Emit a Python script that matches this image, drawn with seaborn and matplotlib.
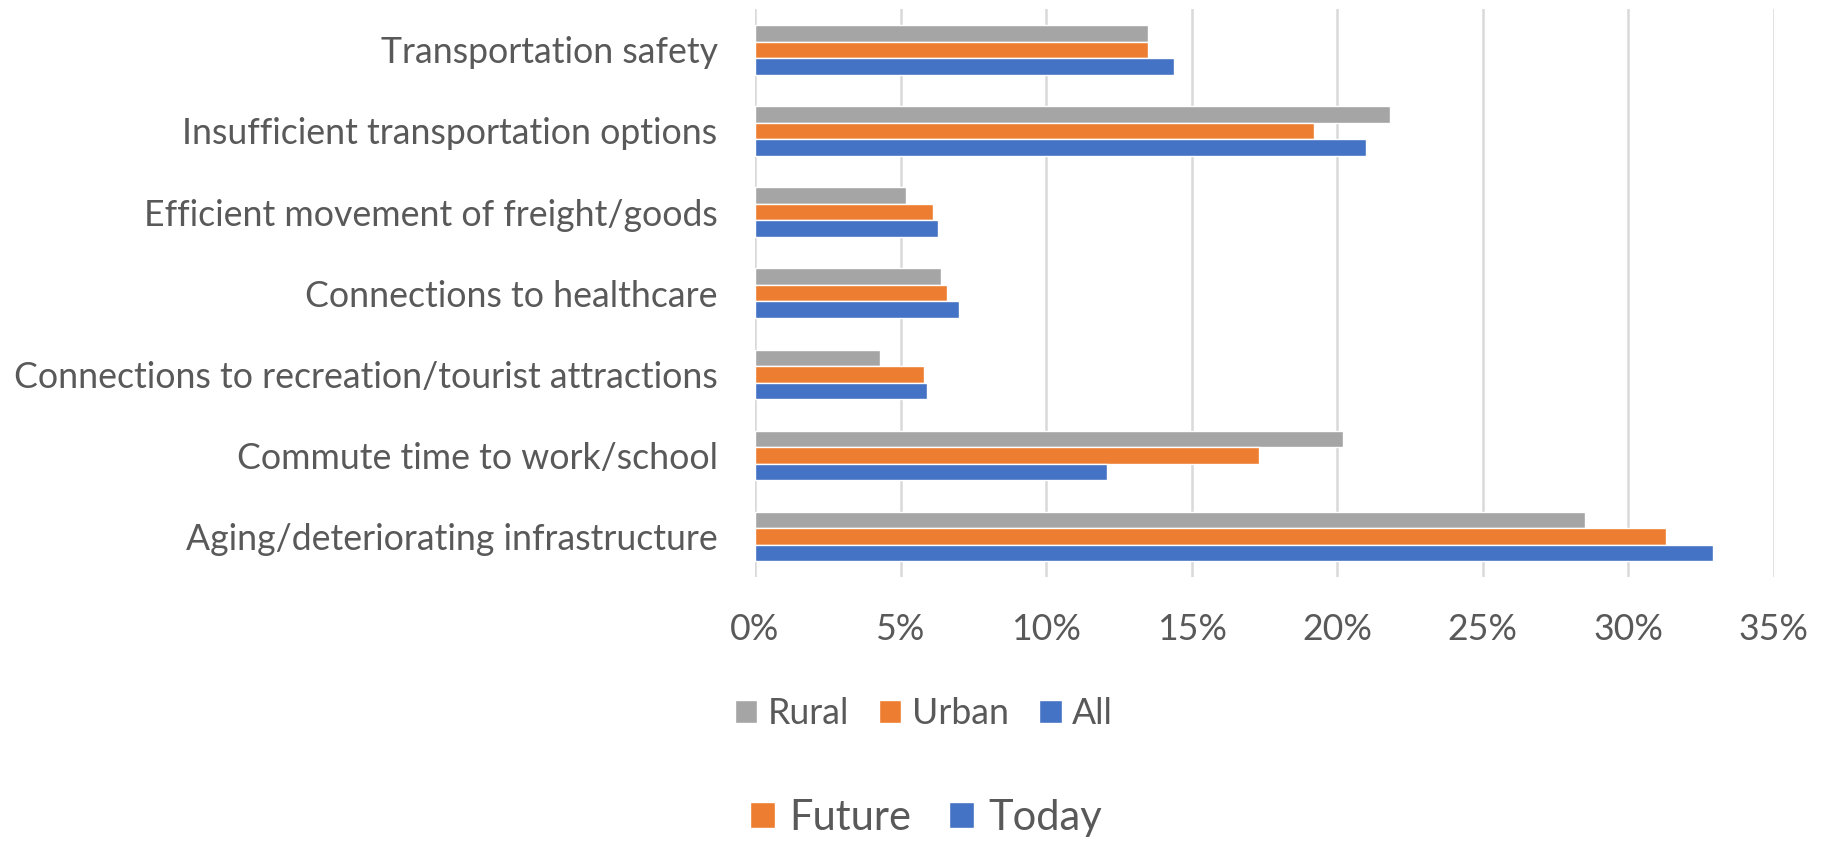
import pandas as pd
import matplotlib.pyplot as plt
import seaborn as sns
from matplotlib.patches import Patch

categories = [
    "Transportation safety",
    "Insufficient transportation options",
    "Efficient movement of freight/goods",
    "Connections to healthcare",
    "Connections to recreation/tourist attractions",
    "Commute time to work/school",
    "Aging/deteriorating infrastructure",
]
rural = [13.5, 21.8, 5.2, 6.4, 4.3, 20.2, 28.5]
urban = [13.5, 19.2, 6.1, 6.6, 5.8, 17.3, 31.3]
all_ = [14.4, 21.0, 6.3, 7.0, 5.9, 12.1, 32.9]
groups = ["Rural", "Urban", "All"]
xticks = [0, 5, 10, 15, 20, 25, 30, 35]
period_labels = ["Future", "Today"]

colors = {"Rural": "#A5A5A5", "Urban": "#ED7D31", "All": "#4472C4"}
text_color = "#595959"

df = pd.DataFrame({"category": categories, "Rural": rural, "Urban": urban, "All": all_})
df = df.melt(id_vars="category", var_name="group", value_name="share")

sns.set_style("white")
plt.rcParams["font.family"] = ["Lato", "DejaVu Sans"]

fig, ax = plt.subplots(figsize=(18.26, 8.43), dpi=100)
fig.subplots_adjust(left=0.4135, right=0.9715, top=0.989, bottom=0.3155)

sns.barplot(data=df, y="category", x="share", hue="group", hue_order=groups,
            order=categories, palette=colors, orient="h", width=0.61,
            saturation=1, ax=ax, legend=True)

ax.set_xlim(0, 35)
ax.set_ylim(len(categories) - 0.5, -0.5)
ax.set_xticks(xticks)
ax.set_xticklabels([f"{t}%" for t in xticks])
ax.set_xlabel("")
ax.set_ylabel("")
ax.grid(axis="x", color="#D9D9D9", linewidth=1.8)
ax.grid(axis="y", visible=False)
ax.set_axisbelow(True)
for s in ax.spines.values():
    s.set_visible(False)
ax.tick_params(axis="x", length=0, pad=26, labelsize=25.7, labelcolor=text_color)
ax.tick_params(axis="y", length=0, pad=27, labelsize=25.7, labelcolor=text_color)

# two separate legends under the chart, like the original
ax.get_legend().remove()
h1 = [Patch(facecolor=colors[g], label=g) for g in groups]
fig.legend(handles=h1, loc="center", bbox_to_anchor=(0.506, 0.154), ncol=3,
           frameon=False, fontsize=25.7, handlelength=0.62, handleheight=0.62,
           handletextpad=0.3, columnspacing=0.85, labelcolor=text_color)

h2 = [Patch(facecolor=colors["Urban"], label=period_labels[0]),
      Patch(facecolor=colors["All"], label=period_labels[1])]
fig.legend(handles=h2, loc="center", bbox_to_anchor=(0.507, 0.03), ncol=2,
           frameon=False, fontsize=30, handlelength=0.6, handleheight=0.6,
           handletextpad=0.35, columnspacing=0.9, labelcolor=text_color)

fig.savefig("out.png", dpi=100)
